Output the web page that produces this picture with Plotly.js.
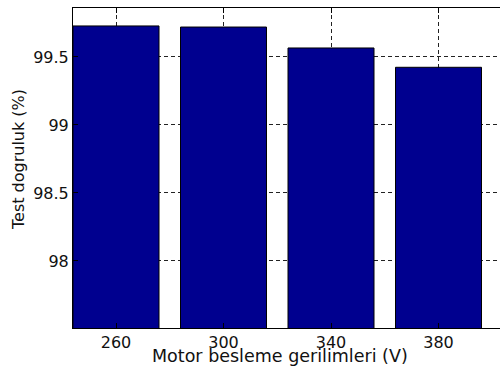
<!DOCTYPE html>
<html>
<head>
<meta charset="utf-8">
<script src="https://cdn.plot.ly/plotly-3.0.1.min.js"></script>
<style>html,body{margin:0;padding:0;background:#fff;}#chart{width:500px;height:367px;}</style>
</head>
<body>
<div id="chart"></div>
<script>
var categories = ["260", "300", "340", "380"];
var accuracy = [99.728, 99.72, 99.566, 99.424];
var yTickVals = [98, 98.5, 99, 99.5];
var yTickText = ["98", "98.5", "99", "99.5"];
var xTitle = "Motor besleme gerilimleri (V)";
var yTitle = "Test dogruluk (%)";

var font = "DejaVu Sans, Arial, sans-serif";

var trace = {
  type: "bar",
  x: categories,
  y: accuracy,
  width: 0.8,
  marker: {color: "rgb(0,0,143)", line: {color: "#000", width: 1}},
  hoverinfo: "x+y"
};

var layout = {
  width: 500, height: 367,
  margin: {l: 73, r: 0, t: 8, b: 39, pad: 0},
  paper_bgcolor: "#fff", plot_bgcolor: "#fff",
  showlegend: false,
  font: {family: font, size: 16, color: "#111"},
  xaxis: {
    type: "category",
    range: [-0.4, 3.572],
    showline: true, linecolor: "#000", linewidth: 1, mirror: "ticks",
    ticks: "inside", ticklen: 5, tickcolor: "#000",
    showgrid: true, gridcolor: "#222", gridwidth: 1, griddash: "4px,3px",
    zeroline: false,
    tickfont: {family: font, size: 16, color: "#111"},
    fixedrange: true
  },
  yaxis: {
    range: [97.507, 99.86],
    tickvals: yTickVals, ticktext: yTickText,
    showline: true, linecolor: "#000", linewidth: 1, mirror: false,
    ticks: "inside", ticklen: 5, tickcolor: "#000",
    showgrid: true, gridcolor: "#222", gridwidth: 1, griddash: "4px,3px",
    zeroline: false,
    tickfont: {family: font, size: 16, color: "#111"},
    fixedrange: true
  },
  annotations: [
    {text: xTitle, xref: "paper", yref: "paper", x: 0.4848, y: -0.0875,
     xanchor: "center", yanchor: "middle", showarrow: false,
     font: {family: font, size: 17.5, color: "#111"}},
    {text: yTitle, xref: "paper", yref: "paper", x: -0.1288, y: 0.525,
     xanchor: "center", yanchor: "middle", showarrow: false, textangle: -90,
     font: {family: font, size: 16, color: "#111"}}
  ]
};

Plotly.newPlot("chart", [trace], layout, {displayModeBar: false, staticPlot: true});
</script>
</body>
</html>
